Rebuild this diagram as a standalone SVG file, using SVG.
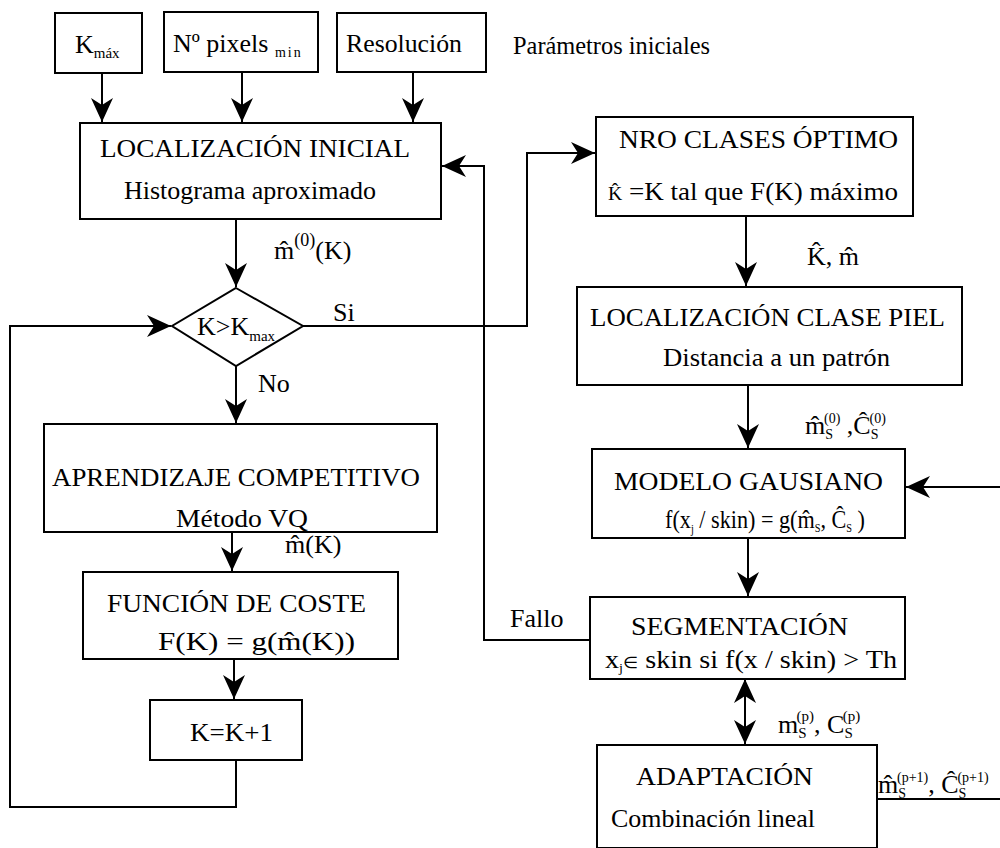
<svg xmlns="http://www.w3.org/2000/svg" width="1000" height="848" viewBox="0 0 1000 848" font-family="Liberation Serif, serif">
<defs>
<marker id="ah" markerUnits="userSpaceOnUse" viewBox="-26 -12 28 24" markerWidth="28" markerHeight="24" refX="0" refY="0" orient="auto-start-reverse">
<path d="M0,0 L-24,-11 L-17,0 L-24,11 Z" fill="#000"/>
</marker>
<style>
rect,polygon{fill:#fff;stroke:#000;stroke-width:2}
.c path{fill:none;stroke:#000;stroke-width:2}
text{fill:#000;font-size:26px}
</style>
</defs>
<rect x="0" y="0" width="1000" height="848" style="fill:#fff;stroke:none"/>

<g class="c" id="connectors">
<path d="M102,73 V122" marker-end="url(#ah)"/>
<path d="M242,72 V122" marker-end="url(#ah)"/>
<path d="M413,72 V122" marker-end="url(#ah)"/>
<path d="M236,219 V287" marker-end="url(#ah)"/>
<path d="M303,326 H527 V153 H595" marker-end="url(#ah)"/>
<path d="M236,366 V423" marker-end="url(#ah)"/>
<path d="M232,532 V571" marker-end="url(#ah)"/>
<path d="M234,659 V699" marker-end="url(#ah)"/>
<path d="M236,760 V807 H10 V326 H171" marker-end="url(#ah)"/>
<path d="M746,216 V286" marker-end="url(#ah)"/>
<path d="M748,385 V448" marker-end="url(#ah)"/>
<path d="M748,538 V596" marker-end="url(#ah)"/>
<path d="M1000,487 H906" marker-end="url(#ah)"/>
<path d="M590,640 H484 V166 H442" marker-end="url(#ah)"/>
<path d="M745,679 V744" marker-start="url(#ah)" marker-end="url(#ah)"/>
<path d="M877,799 H1000"/>
</g>

<g id="n-kmax">
<rect x="55" y="13" width="87" height="60"/>
<text x="75" y="53">K<tspan font-size="15" dy="5">máx</tspan></text>
</g>
<g id="n-npixels">
<rect x="164" y="12" width="154" height="60"/>
<text x="173" y="52">Nº pixels <tspan font-size="14" dy="5" letter-spacing="2">min</tspan></text>
</g>
<g id="n-resolucion">
<rect x="337" y="13" width="149" height="59"/>
<text x="346" y="52" textLength="116" lengthAdjust="spacingAndGlyphs">Resolución</text>
</g>
<g id="t-param">
<text x="513" y="54" font-size="23" textLength="197" lengthAdjust="spacingAndGlyphs">Parámetros iniciales</text>
</g>

<g id="n-locinicial">
<rect x="80" y="123" width="361" height="96"/>
<text x="100" y="157" textLength="310" lengthAdjust="spacingAndGlyphs">LOCALIZACIÓN INICIAL</text>
<text x="124" y="199" textLength="252" lengthAdjust="spacingAndGlyphs">Histograma aproximado</text>
</g>
<text x="274" y="259" font-size="33">m̂<tspan font-size="18" dy="-13">(0)</tspan><tspan dy="13">(K)</tspan></text>

<g id="n-decision">
<polygon points="236,288 303,326 236,366 172,326"/>
<text x="197" y="335" font-size="27">K&gt;K<tspan font-size="15" dy="6">max</tspan></text>
</g>
<text x="333" y="321" font-size="26">Si</text>
<text x="258" y="392" font-size="24">No</text>

<g id="n-aprendizaje">
<rect x="44" y="424" width="393" height="108"/>
<text x="52" y="486" textLength="368" lengthAdjust="spacingAndGlyphs">APRENDIZAJE COMPETITIVO</text>
<text x="176" y="527" textLength="132" lengthAdjust="spacingAndGlyphs">Método VQ</text>
</g>
<text x="285" y="553" font-size="31">m̂(K)</text>

<g id="n-funcion">
<rect x="83" y="572" width="315" height="87"/>
<text x="107" y="612" textLength="259" lengthAdjust="spacingAndGlyphs">FUNCIÓN DE COSTE</text>
<text x="158" y="650" font-size="31" textLength="197" lengthAdjust="spacingAndGlyphs">F(K) = g(m̂(K))</text>
</g>

<g id="n-kplus">
<rect x="150" y="700" width="152" height="60"/>
<text x="190" y="741" textLength="83" lengthAdjust="spacingAndGlyphs">K=K+1</text>
</g>

<g id="n-nroclases">
<rect x="596" y="117" width="317" height="99"/>
<text x="619" y="148" textLength="279" lengthAdjust="spacingAndGlyphs">NRO CLASES ÓPTIMO</text>
<text x="608" y="200" textLength="290" lengthAdjust="spacingAndGlyphs"><tspan font-size="19">K̂</tspan> =K tal que F(K) máximo</text>
</g>
<text x="807" y="265" font-size="30">K̂, m̂</text>

<g id="n-locpiel">
<rect x="577" y="287" width="385" height="98"/>
<text x="590" y="326" textLength="355" lengthAdjust="spacingAndGlyphs">LOCALIZACIÓN CLASE PIEL</text>
<text x="663" y="366" textLength="227" lengthAdjust="spacingAndGlyphs">Distancia a un patrón</text>
</g>
<text x="805" y="434" font-size="26">m̂<tspan font-size="14" dy="5">S</tspan><tspan font-size="14" dx="-9" dy="-16">(0)</tspan><tspan dy="11"> ,Ĉ</tspan><tspan font-size="14" dy="5">S</tspan><tspan font-size="14" dx="-9" dy="-16">(0)</tspan></text>

<g id="n-modelo">
<rect x="592" y="449" width="313" height="89"/>
<text x="614" y="490" textLength="269" lengthAdjust="spacingAndGlyphs">MODELO GAUSIANO</text>
<text x="665" y="528" font-size="20" textLength="200" lengthAdjust="spacingAndGlyphs">f(x<tspan font-size="12" dy="5">j</tspan><tspan dy="-5"> / skin) =  g(m̂</tspan><tspan font-size="12" dy="4">S</tspan><tspan dy="-4">, Ĉ</tspan><tspan font-size="12" dy="4">S</tspan><tspan dy="-4"> )</tspan></text>
</g>

<text x="510" y="627" font-size="24">Fallo</text>

<g id="n-segmentacion">
<rect x="590" y="597" width="315" height="82"/>
<text x="631" y="635" textLength="217" lengthAdjust="spacingAndGlyphs">SEGMENTACIÓN</text>
<text x="605" y="668" font-size="20" textLength="292" lengthAdjust="spacingAndGlyphs">x<tspan font-size="13" dy="4">j</tspan><tspan dy="-4" font-size="16">∈</tspan> skin  si  f(x / skin) &gt; Th</text>
</g>
<text x="778" y="733" font-size="26">m<tspan font-size="15" dy="5">S</tspan><tspan font-size="15" dx="-10" dy="-17">(p)</tspan><tspan dy="12">, C</tspan><tspan font-size="15" dy="5">S</tspan><tspan font-size="15" dx="-10" dy="-17">(p)</tspan></text>

<g id="n-adaptacion">
<rect x="597" y="745" width="280" height="103"/>
<text x="636" y="785" textLength="177" lengthAdjust="spacingAndGlyphs">ADAPTACIÓN</text>
<text x="611" y="827" textLength="204" lengthAdjust="spacingAndGlyphs">Combinación lineal</text>
</g>
<text x="878" y="793" font-size="25">m̂<tspan font-size="14" dy="5">S</tspan><tspan font-size="14" dx="-9" dy="-16">(p+1)</tspan><tspan dy="11">, Ĉ</tspan><tspan font-size="14" dy="5">S</tspan><tspan font-size="14" dx="-9" dy="-16">(p+1)</tspan></text>
</svg>
